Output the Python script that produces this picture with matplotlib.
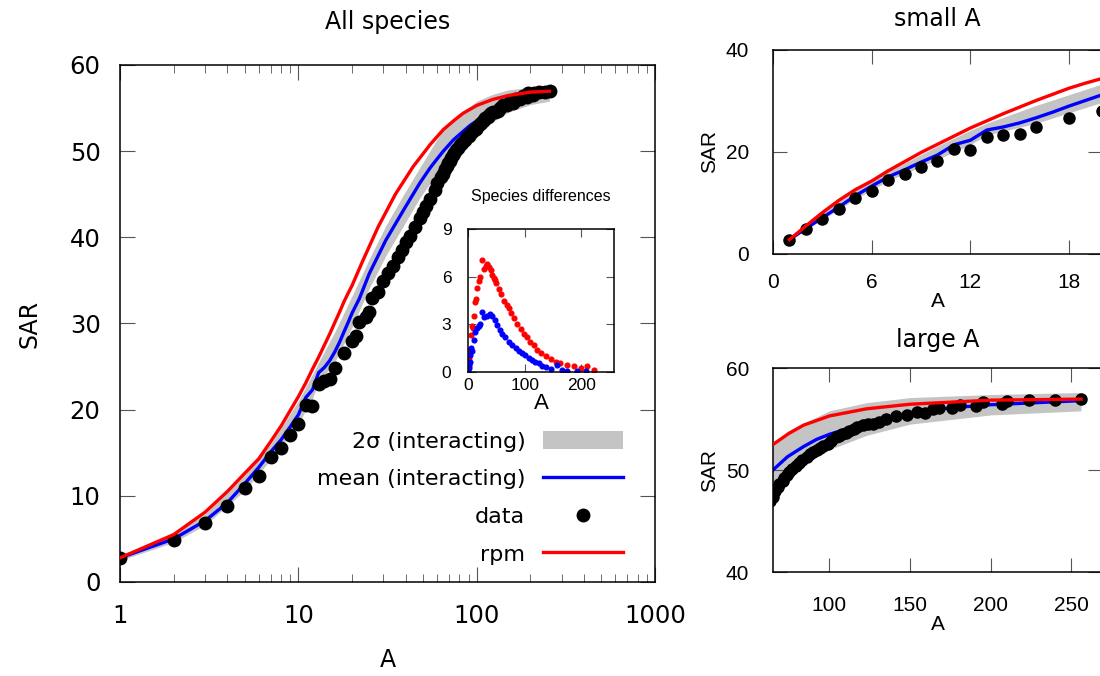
import matplotlib
matplotlib.use("Agg")
import matplotlib.pyplot as plt
import numpy as np

# observed SAR (black dots)
A_data = [1, 2, 3, 4, 5, 6, 7, 8, 9, 10, 11, 12, 13, 14, 15, 16, 18, 20, 21, 22,
          24, 25, 26, 28, 30, 32, 34, 36, 38, 40, 42, 45, 48, 50, 52, 55, 58, 60,
          63, 65, 66, 68, 69, 71, 72, 74, 75, 77, 79, 81, 83, 86, 88, 90, 92, 94,
          96, 99, 101, 104, 106, 108, 110, 112, 115, 117, 121, 124, 127, 131, 135,
          141, 148, 154, 159, 164, 168, 176, 181, 191, 195, 207, 210, 224, 240, 256]
S_data = [2.8, 4.9, 6.9, 8.8, 10.9, 12.3, 14.5, 15.6, 17.1, 18.3, 20.5, 20.4, 23.0,
          23.3, 23.5, 24.8, 26.6, 28.0, 28.6, 30.2, 30.8, 31.3, 33.0, 33.6, 34.9,
          35.9, 36.7, 37.7, 38.5, 39.4, 40.2, 41.2, 42.2, 42.9, 43.6, 44.5, 45.5,
          46.3, 47.0, 47.4, 47.9, 48.3, 48.6, 48.9, 49.2, 49.5, 49.8, 50.1, 50.4,
          50.7, 51.0, 51.3, 51.6, 51.8, 52.0, 52.2, 52.4, 52.6, 52.8, 53.2, 53.3,
          53.5, 53.6, 53.8, 54.0, 54.2, 54.4, 54.5, 54.5, 54.7, 55.0, 55.3, 55.4,
          55.7, 55.6, 56.0, 56.1, 56.1, 56.4, 56.3, 56.7, 56.5, 56.8, 56.9, 56.9, 57.0]

# mean of interacting model (blue)
A_mean = [1, 2, 3, 4, 5, 6, 7, 8, 9, 10, 11, 12, 13, 14, 15, 16, 17, 18, 19, 20,
          22, 25, 31, 39, 48, 55, 60, 65, 74, 84, 92, 100, 114, 123, 141, 150,
          175, 200, 256]
S_mean = [2.8, 5.0, 7.1, 9.2, 11.4, 13.3, 15.1, 16.5, 18.0, 19.4, 21.4, 22.3, 24.3,
          24.9, 25.7, 26.7, 27.8, 29.0, 30.1, 31.2, 32.9, 35.8, 39.7, 43.2, 46.3,
          48.1, 49.1, 50.0, 51.3, 52.3, 53.0, 53.5, 54.2, 54.7, 55.3, 55.5, 56.1,
          56.4, 56.8]

# 2 sigma band of interacting model (grey)
A_band = [1, 2, 3, 5, 7, 10, 12, 13, 16, 20, 25, 31, 39, 48, 60, 65, 74, 92, 100,
          123, 150, 200, 256]
band_lo = [2.5, 4.6, 6.6, 10.6, 14.2, 18.4, 21.3, 23.2, 25.5, 29.6, 34.1, 37.9,
           41.4, 44.6, 47.4, 48.0, 49.7, 51.5, 52.0, 53.4, 54.5, 55.4, 55.8]
band_hi = [3.1, 5.6, 7.9, 12.4, 16.0, 21.0, 24.1, 25.5, 29.0, 33.2, 37.5, 41.4,
           45.0, 48.1, 51.4, 52.5, 53.8, 55.2, 55.8, 56.6, 57.1, 57.4, 57.6]

# random placement model (red)
A_rpm = [1, 2, 3, 4, 5, 6, 7, 8, 9, 10, 11, 12, 13, 14, 15, 16, 17, 18, 19, 20,
         23, 28, 35, 44, 55, 65, 75, 84, 100, 123, 150, 200, 256]
S_rpm = [2.8, 5.5, 8.1, 10.5, 12.6, 14.3, 16.3, 18.1, 19.9, 21.5, 23.1, 24.7, 26.1,
         27.5, 28.8, 30.1, 31.3, 32.5, 33.5, 34.4, 37.3, 41.2, 45.0, 48.2, 50.8,
         52.5, 53.6, 54.4, 55.3, 56.0, 56.45, 56.85, 56.95]

# inset: species differences
A_diff_rpm = [0, 1, 2, 3, 5, 7, 9, 10, 12, 14, 16, 19, 22, 25, 28, 31, 34, 37, 40,
              42, 45, 48, 50, 54, 58, 63, 68, 72, 76, 81, 87, 93, 99, 104, 110, 116,
              122, 129, 137, 146, 155, 163, 175, 187, 199, 211, 222]
D_rpm = [0.05, 0.35, 0.9, 1.4, 2.3, 2.9, 2.8, 3.5, 4.4, 4.6, 5.3, 5.7, 6.0, 7.05,
         6.5, 6.7, 6.8, 6.6, 6.4, 6.1, 5.9, 5.8, 5.6, 5.2, 4.9, 4.5, 4.2, 4.0, 3.7,
         3.4, 3.05, 2.7, 2.4, 2.2, 1.9, 1.7, 1.4, 1.2, 1.0, 0.8, 0.65, 0.55, 0.45,
         0.35, 0.25, 0.4, 0.1]
A_diff_mean = [0, 1, 2, 3, 4, 6, 7, 10, 13, 16, 19, 21, 25, 29, 34, 38, 43, 47, 51,
               56, 60, 66, 72, 78, 84, 90, 96, 101, 107, 113, 119, 125, 131, 137,
               146, 158, 166, 175, 193, 208]
D_mean = [0.0, 0.25, 0.5, 0.65, 1.1, 1.5, 1.3, 2.0, 2.5, 2.75, 2.9, 3.05, 3.8, 3.45,
          3.5, 3.65, 3.55, 3.25, 2.95, 2.65, 2.4, 2.2, 1.9, 1.7, 1.5, 1.3, 1.2, 1.05,
          0.9, 0.75, 0.65, 0.55, 0.35, 0.3, 0.2, 0.45, 0.15, 0.05, 0.05, 0.05]

GREY = '#c4c4c4'
TICKC = '#555555'


def style_axes(ax, size, family, xpad, ypad):
    ax.tick_params(which='both', direction='in', top=True, right=True,
                   color=TICKC, labelsize=size)
    ax.tick_params(axis='x', which='both', pad=xpad)
    ax.tick_params(axis='y', which='both', pad=ypad)
    for t in ax.get_xticklabels() + ax.get_yticklabels():
        t.set_family(family)
    for s in ax.spines.values():
        s.set_linewidth(1.1)


def draw_sar(ax, ms):
    ax.fill_between(A_band, band_lo, band_hi, color=GREY, lw=0,
                    label='2σ (interacting)', zorder=1)
    ax.plot(A_mean, S_mean, color='#0000ff', lw=2.4, label='mean (interacting)', zorder=2)
    ax.plot(A_data, S_data, 'o', color='black', ms=ms, ls='none', label='data', zorder=3)
    ax.plot(A_rpm, S_rpm, color='#ff0000', lw=2.4, label='rpm', zorder=4)


fig = plt.figure(figsize=(11, 6.76), dpi=100)

# main panel
ax = fig.add_axes([0.1091, 0.1391, 0.4864, 0.7648])
draw_sar(ax, 9)
ax.set_xscale('log')
ax.set_xlim(1, 1000)
ax.set_ylim(0, 60)
ax.set_yticks([0, 10, 20, 30, 40, 50, 60])
ax.xaxis.set_major_formatter(matplotlib.ticker.FuncFormatter(lambda v, p: '%d' % v))
style_axes(ax, 17.5, 'DejaVu Sans', 16, 14)
ax.tick_params(which='major', length=11)
ax.tick_params(which='minor', length=6)
ax.set_xlabel('A', fontsize=17, labelpad=14)
ax.set_ylabel('SAR', fontsize=17, labelpad=20)
ax.set_title('All species', fontsize=17, pad=26)
ax.legend(loc='lower right', bbox_to_anchor=(0.961, 0.012), frameon=False,
          markerfirst=False, numpoints=1, fontsize=16, handlelength=3.6,
          handleheight=0.85, handletextpad=0.8, labelspacing=0.77, borderpad=0)

# inset
axi = fig.add_axes([0.4255, 0.4497, 0.1327, 0.2115])
axi.plot(A_diff_rpm, D_rpm, 'o', color='#ff0000', ms=3.4, ls='none')
axi.plot(A_diff_mean, D_mean, 'o', color='#0000ff', ms=3.4, ls='none')
axi.set_xlim(0, 258)
axi.set_ylim(0, 9)
axi.set_xticks([0, 100, 200])
axi.set_yticks([0, 3, 6, 9])
style_axes(axi, 12.5, 'Liberation Sans', 4, 12)
axi.tick_params(which='major', length=6)
axi.set_xlabel('A', fontsize=16, family='Liberation Sans', labelpad=0)
axi.set_title('Species differences', fontsize=11.5, family='Liberation Sans', pad=20)

# small A panel
axs = fig.add_axes([0.7027, 0.6243, 0.2991, 0.3018])
draw_sar(axs, 8)
axs.set_xlim(0, 20)
axs.set_ylim(0, 40)
axs.set_xticks([0, 6, 12, 18])
axs.set_yticks([0, 20, 40])
style_axes(axs, 15, 'Liberation Sans', 14, 17)
axs.tick_params(which='major', length=10)
axs.set_xlabel('A', fontsize=15, family='Liberation Sans', labelpad=0)
axs.set_ylabel('SAR', fontsize=15, family='Liberation Sans', labelpad=5)
axs.set_title('small A', fontsize=17, pad=17)

# large A panel
axl = fig.add_axes([0.7027, 0.1538, 0.2991, 0.3018])
draw_sar(axl, 8)
axl.set_xlim(65, 269)
axl.set_ylim(40, 60)
axl.set_xticks([100, 150, 200, 250])
axl.set_yticks([40, 50, 60])
style_axes(axl, 15, 'Liberation Sans', 17, 17)
axl.tick_params(which='major', length=10)
axl.set_xlabel('A', fontsize=15, family='Liberation Sans', labelpad=0)
axl.set_ylabel('SAR', fontsize=15, family='Liberation Sans', labelpad=5)
axl.set_title('large A', fontsize=17, pad=15)

fig.savefig('out.png', dpi=100)
